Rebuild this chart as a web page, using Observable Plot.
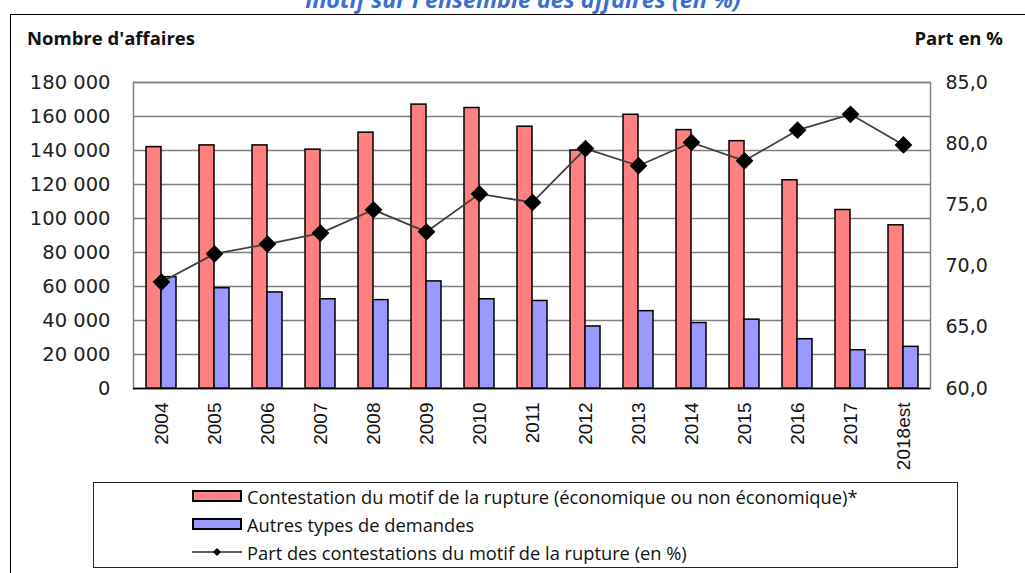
<!DOCTYPE html>
<html>
<head>
<meta charset="utf-8">
<script src="https://cdn.jsdelivr.net/npm/d3@7"></script>
<script src="https://cdn.jsdelivr.net/npm/@observablehq/plot@0.6"></script>
<style>
  html, body { margin:0; padding:0; background:#fff; width:1025px; height:573px; overflow:hidden; }
  body { position:relative; font-family:"DejaVu Sans", sans-serif; color:#111; }
  #outer { position:absolute; left:10px; top:14px; width:1100px; height:700px; border-left:1.5px solid #000; border-top:1.5px solid #000; }
  #title { position:absolute; left:0; width:1046px; top:-12px; text-align:center; font-family:"Open Sans", sans-serif; font-weight:bold; font-style:italic; font-size:23.3px; line-height:23px; color:#3B6FCF; white-space:nowrap; }
  .axtitle { position:absolute; top:29px; font-family:"Open Sans", sans-serif; font-weight:bold; font-size:18.5px; line-height:18px; color:#111; white-space:nowrap; }
  #chart { position:absolute; left:0; top:0; }
  #legend { position:absolute; left:93px; top:482px; width:865px; height:86px; border:1.5px solid #222; box-sizing:border-box; }
  .lrow { position:absolute; left:98px; height:20px; display:flex; align-items:center; font-family:"Open Sans", sans-serif; font-size:18.3px; color:#111; white-space:nowrap; }
  .sw { width:46px; height:8px; border:2px solid #000; margin-right:5px; }
  .lsvg { margin-right:5px; }
</style>
</head>
<body>
<div id="outer"></div>
<div id="title">motif sur l'ensemble des affaires (en %)</div>
<div class="axtitle" style="left:27px">Nombre d'affaires</div>
<div class="axtitle" style="right:22px">Part en %</div>
<div id="chart"></div>
<div id="legend"></div>
<script>
// ---- data ----
const years = ["2004","2005","2006","2007","2008","2009","2010","2011","2012","2013","2014","2015","2016","2017","2018est"];
const contestation = [142000,143000,143000,140500,150500,167000,165000,154000,140000,161000,152000,145500,122500,105000,96000];
const autres = [65500,59000,56500,52500,52000,63000,52500,51500,36500,45500,38500,40500,29000,22500,24500];
const part = [68.7,71.0,71.8,72.7,74.6,72.8,75.9,75.2,79.6,78.2,80.1,78.6,81.1,82.4,79.9];
const leftTicks = [0,20000,40000,60000,80000,100000,120000,140000,160000,180000];
const rightTicks = [60,65,70,75,80,85];
const seriesNames = [
  "Contestation du motif de la rupture (économique ou non économique)*",
  "Autres types de demandes",
  "Part des contestations du motif de la rupture (en %)"
];
const colors = ["#FF8080", "#9999FF", "#000000"];

// map the right (percent) axis onto the left scale
const toY = p => (p - 60) / 25 * 180000;
const fromY = v => v / 180000 * 25 + 60;

const rows = years.map((y, i) => ({year: y, c: contestation[i], a: autres[i], p: part[i], pY: toY(part[i])}));

const chart = Plot.plot({
  width: 1025,
  height: 573,
  marginLeft: 133,
  marginRight: 95,
  marginTop: 82,
  marginBottom: 185,
  style: {background: "transparent", fontFamily: "DejaVu Sans", fontSize: "18px", overflow: "visible"},
  x: {type: "band", domain: years, paddingInner: 0.435, paddingOuter: 0.2175, label: null},
  y: {domain: [0, 180000], label: null},
  marks: [
    Plot.gridY(leftTicks, {stroke: "#808080", strokeOpacity: 1, strokeWidth: 1.5}),
    Plot.barY(rows, {x: "year", y: "c", fill: colors[0], stroke: "#000", strokeWidth: 1.5, insetRight: 15}),
    Plot.barY(rows, {x: "year", y: "a", fill: colors[1], stroke: "#000", strokeWidth: 1.5, insetLeft: 15}),
    Plot.frame({stroke: "#808080", strokeWidth: 1.5}),
    Plot.ruleY([0], {stroke: "#000", strokeWidth: 1.5}),
    Plot.line(rows, {x: "year", y: "pY", stroke: "#404040", strokeWidth: 1.8}),
    Plot.dot(rows, {x: "year", y: "pY", symbol: "diamond2", r: 8, fill: colors[2], stroke: "none"}),
    Plot.axisY(leftTicks, {anchor: "left", tickSize: 0, tickPadding: 23, label: null,
      tickFormat: d => d3.format(",")(d).replace(/,/g, " "), fontSize: 19.5, fontFamily: "DejaVu Sans", fill: "#222"}),
    Plot.axisY(rightTicks.map(toY), {anchor: "right", tickSize: 0, tickPadding: 15, label: null,
      tickFormat: v => fromY(v).toFixed(1).replace(".", ","), fontSize: 19, fontFamily: "DejaVu Sans", fill: "#222"}),
    Plot.axisX({tickRotate: -90, tickSize: 0, tickPadding: 14, label: null, fontSize: 19, fontFamily: "Liberation Sans", fill: "#111"})
  ]
});
document.getElementById("chart").appendChild(chart);

// ---- legend ----
const legend = document.getElementById("legend");
const tops = [3, 31, 59];
seriesNames.forEach((name, i) => {
  const row = document.createElement("div");
  row.className = "lrow";
  row.style.top = tops[i] + "px";
  if (i < 2) {
    const sw = document.createElement("div");
    sw.className = "sw";
    sw.style.background = colors[i];
    row.appendChild(sw);
  } else {
    const ns = "http://www.w3.org/2000/svg";
    const svg = document.createElementNS(ns, "svg");
    svg.setAttribute("width", 50); svg.setAttribute("height", 12);
    svg.setAttribute("class", "lsvg");
    const ln = document.createElementNS(ns, "line");
    ln.setAttribute("x1", 0); ln.setAttribute("x2", 50); ln.setAttribute("y1", 6); ln.setAttribute("y2", 6);
    ln.setAttribute("stroke", "#222"); ln.setAttribute("stroke-width", 1.5);
    const dm = document.createElementNS(ns, "path");
    dm.setAttribute("d", "M25,2 L29,6 L25,10 L21,6 Z");
    dm.setAttribute("fill", "#000");
    svg.appendChild(ln); svg.appendChild(dm);
    row.appendChild(svg);
  }
  const t = document.createElement("span");
  t.textContent = name;
  row.appendChild(t);
  legend.appendChild(row);
});
</script>
</body>
</html>
